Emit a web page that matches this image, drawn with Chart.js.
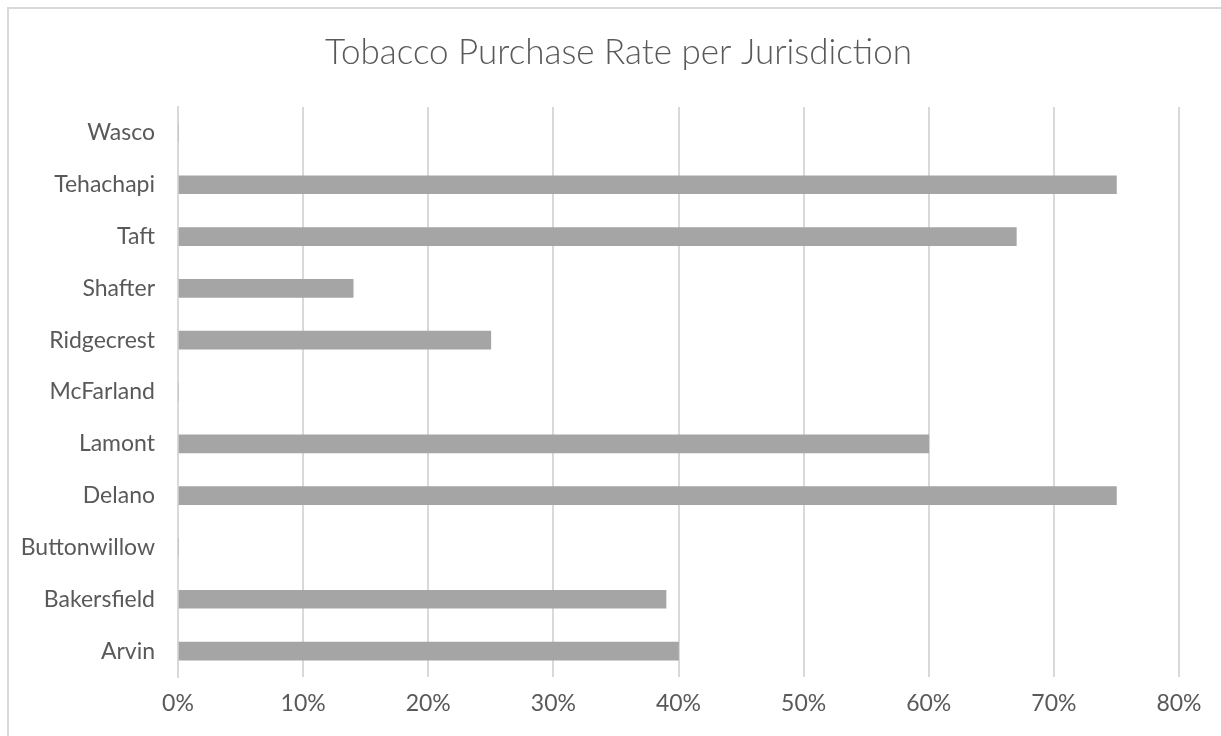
<!DOCTYPE html>
<html>
<head>
<meta charset="utf-8">
<title>Tobacco Purchase Rate per Jurisdiction</title>
<script src="https://cdn.jsdelivr.net/npm/chart.js@4/dist/chart.umd.min.js"></script>
<style>
  html, body { margin: 0; padding: 0; background: #ffffff; }
  #wrap { position: relative; width: 1221px; height: 736px; overflow: hidden; }
  canvas { display: block; }
</style>
</head>
<body>
<div id="wrap"><canvas id="chart" width="1221" height="736"></canvas></div>
<script>
// Jurisdictions, listed bottom-up as on the axis
const jurisdictions = ['Arvin', 'Bakersfield', 'Buttonwillow', 'Delano', 'Lamont',
  'McFarland', 'Ridgecrest', 'Shafter', 'Taft', 'Tehachapi', 'Wasco'];

// Purchase rate (%) for each jurisdiction
const purchaseRate = [40, 39, 0, 75, 60, 0, 25, 14, 67, 75, 0];

// Percentage axis ticks
const rateTicks = [0, 10, 20, 30, 40, 50, 60, 70, 80];

const chartTitle = 'Tobacco Purchase Rate per Jurisdiction';

const FONT = 'Lato, "Open Sans", sans-serif';
const TEXT = '#595959';
const GRID = '#d9d9d9';

// Light frame around the whole chart, with the heading centred inside it
const framePlugin = {
  id: 'frame',
  beforeDraw(chart) {
    const ctx = chart.ctx;
    const frameLeft = 8;
    ctx.save();
    ctx.strokeStyle = GRID;
    ctx.lineWidth = 2;
    ctx.strokeRect(frameLeft, 8, chart.width + 20, chart.height + 20);
    ctx.fillStyle = TEXT;
    ctx.font = '300 35px ' + FONT;
    ctx.textAlign = 'center';
    ctx.textBaseline = 'middle';
    ctx.fillText(chartTitle, (frameLeft + chart.width + 8) / 2, 53);
    ctx.restore();
  }
};

new Chart(document.getElementById('chart'), {
  type: 'bar',
  data: {
    labels: jurisdictions,
    datasets: [{
      data: purchaseRate,
      backgroundColor: '#a5a5a5',
      borderWidth: 0,
      barThickness: 18
    }]
  },
  options: {
    indexAxis: 'y',
    responsive: false,
    animation: false,
    layout: { padding: { left: 0, right: 42, top: 107, bottom: 0 } },
    plugins: {
      legend: { display: false },
      tooltip: { enabled: false },
      title: { display: false }
    },
    scales: {
      x: {
        min: rateTicks[0],
        max: rateTicks[rateTicks.length - 1],
        afterBuildTicks(scale) {
          scale.ticks = rateTicks.map(v => ({ value: v }));
        },
        afterFit(scale) { scale.height = 59; },
        grid: { color: GRID, lineWidth: 2, drawTicks: false },
        border: { display: false },
        ticks: {
          color: TEXT,
          font: { family: FONT, size: 23 },
          padding: 13,
          callback: v => v + '%'
        }
      },
      y: {
        reverse: true,
        afterFit(scale) { scale.width = 178; },
        grid: { display: false, drawTicks: false },
        border: { display: true, color: GRID, width: 2 },
        ticks: {
          color: TEXT,
          font: { family: FONT, size: 23 },
          padding: 23
        }
      }
    }
  },
  plugins: [framePlugin]
});
</script>
</body>
</html>
